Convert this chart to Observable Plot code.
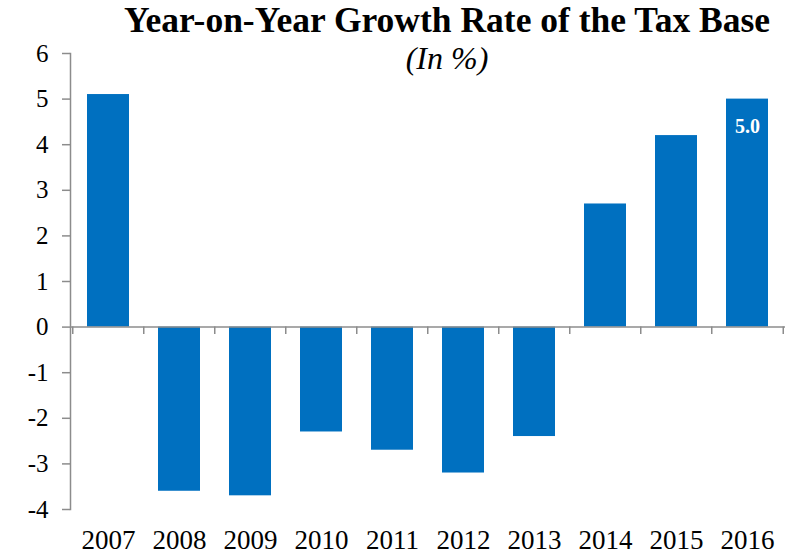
<!DOCTYPE html>
<html>
<head>
<meta charset="utf-8">
<script src="https://cdn.jsdelivr.net/npm/d3@7"></script>
<script src="https://cdn.jsdelivr.net/npm/@observablehq/plot@0.6"></script>
<style>
  html, body { margin: 0; padding: 0; background: #fff; }
  #wrap { position: relative; width: 800px; height: 557px; overflow: hidden; }
  #title { position: absolute; left: 0; width: 894px; top: 2px; text-align: center; line-height: 1.05;
           font-weight: bold; font-size: 35.5px; font-family: "Liberation Serif", serif; color: #000; white-space: nowrap; }
  #subtitle { position: absolute; left: 0; width: 894px; top: 42px; text-align: center; line-height: 1.05;
           font-style: italic; font-size: 32px; font-family: "Liberation Serif", serif; color: #000; white-space: nowrap; }
  #chart { position: absolute; left: 0; top: 0; }
</style>
</head>
<body>
<div id="wrap">
  <div id="chart"></div>
  <div id="title">Year-on-Year Growth Rate of the Tax Base</div>
  <div id="subtitle">(In %)</div>
</div>
<script>
const years = ["2007","2008","2009","2010","2011","2012","2013","2014","2015","2016"];
const growth = [5.1, -3.6, -3.7, -2.3, -2.7, -3.2, -2.4, 2.7, 4.2, 5.0];
const yTicks = [6, 5, 4, 3, 2, 1, 0, -1, -2, -3, -4];
const labeledYear = "2016";

const data = years.map((y, i) => ({year: y, value: growth[i]}));
const W = 800, H = 557, mL = 70, mR = 15;
const step = (W - mL - mR) / years.length;
const gray = "#8c8c8c";

const chart = Plot.plot({
  width: W, height: H,
  marginLeft: mL, marginRight: mR, marginTop: 53, marginBottom: 48,
  style: {fontFamily: "Liberation Serif, serif", color: "#000", background: "transparent"},
  x: {domain: years, paddingInner: 0.41, paddingOuter: 0.205, axis: null},
  y: {domain: [-4, 6], axis: null},
  marks: [
    Plot.barY(data, {x: "year", y: "value", fill: "#0070C0"}),
    Plot.ruleY([0], {stroke: gray, strokeWidth: 1.5}),
    Plot.ruleX(years, {x: d => d, y1: 0, y2: -0.16, dx: -step / 2, stroke: gray, strokeWidth: 1.5}),
    Plot.ruleX(years.slice(-1), {x: d => d, y1: 0, y2: -0.16, dx: step / 2, stroke: gray, strokeWidth: 1.5}),
    Plot.axisY({ticks: yTicks, tickFormat: d => d, tickSize: 8, tickPadding: 14, label: null,
                fontSize: 25, stroke: gray, strokeWidth: 1.5, color: "#000"}),
    Plot.frame({anchor: "left", stroke: gray, strokeWidth: 1.5}),
    Plot.axisX({tickSize: 0, tickPadding: 20, fontSize: 27, anchor: "bottom", label: null}),
    Plot.text(data.filter(d => d.year === labeledYear), {x: "year", y: "value", text: d => d.value.toFixed(1),
                fill: "white", fontWeight: "bold", fontSize: 20, dy: 27})
  ]
});
document.getElementById("chart").appendChild(chart);
</script>
</body>
</html>
